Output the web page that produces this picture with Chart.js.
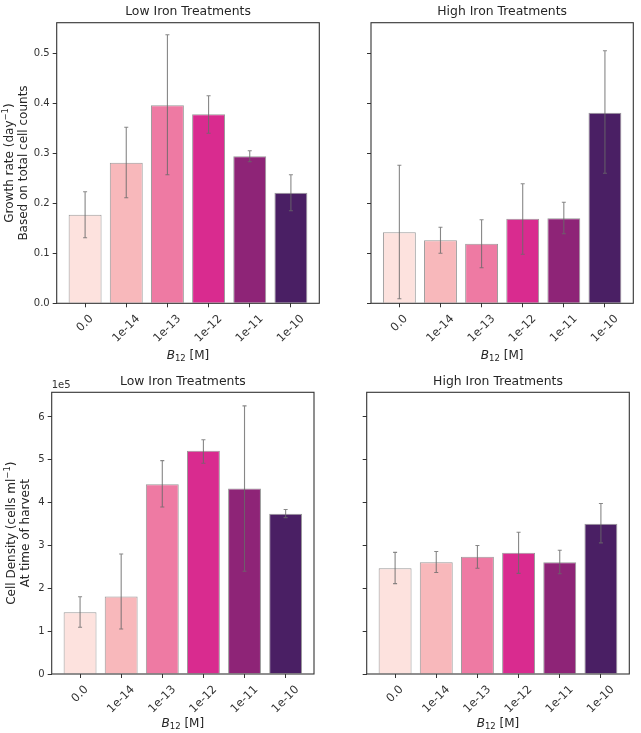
<!DOCTYPE html>
<html><head><meta charset="utf-8">
<script src="https://cdn.jsdelivr.net/npm/chart.js@4"></script>
<style>
html,body{margin:0;padding:0;background:#fff;}
#wrap{position:relative;width:641px;height:733px;overflow:hidden;}
canvas{position:absolute;left:0;top:0;}
</style></head><body>
<div id="wrap">
<canvas id="c1" width="641" height="733"></canvas>
<canvas id="c2" width="641" height="733"></canvas>
<canvas id="c3" width="641" height="733"></canvas>
<canvas id="c4" width="641" height="733"></canvas>
</div>
<script>
// ---- data ----
const categories = ['0.0', '1e-14', '1e-13', '1e-12', '1e-11', '1e-10'];
const barColors = ['#fde2de', '#f8b8bb', '#ee7aa3', '#d92b8f', '#8e2477', '#4a1f64'];

const growthLow      = [0.177, 0.281, 0.396, 0.378, 0.294, 0.221];
const growthLowLo    = [0.131, 0.211, 0.257, 0.340, 0.283, 0.185];
const growthLowHi    = [0.223, 0.352, 0.537, 0.415, 0.305, 0.257];

const growthHigh     = [0.142, 0.126, 0.119, 0.169, 0.170, 0.381];
const growthHighLo   = [0.009, 0.100, 0.071, 0.098, 0.139, 0.260];
const growthHighHi   = [0.276, 0.152, 0.167, 0.239, 0.202, 0.505];

const densityLow     = [1.44e5, 1.81e5, 4.43e5, 5.21e5, 4.33e5, 3.74e5];
const densityLowLo   = [1.09e5, 1.05e5, 3.90e5, 4.92e5, 2.40e5, 3.65e5];
const densityLowHi   = [1.805e5, 2.80e5, 4.98e5, 5.47e5, 6.26e5, 3.84e5];

const densityHigh    = [2.47e5, 2.61e5, 2.74e5, 2.83e5, 2.61e5, 3.51e5];
const densityHighLo  = [2.11e5, 2.37e5, 2.47e5, 2.35e5, 2.34e5, 3.06e5];
const densityHighHi  = [2.84e5, 2.86e5, 3.00e5, 3.31e5, 2.89e5, 3.98e5];

const growthTicks  = [0, 0.1, 0.2, 0.3, 0.4, 0.5];
const densityTicks = [0, 1e5, 2e5, 3e5, 4e5, 5e5, 6e5];

// ---- helpers ----
const FONT = '"DejaVu Sans", "Liberation Sans", sans-serif';
const TXT = '#262626';
const W = 641, H = 733;
const Y_W = 40, X_H = 20;
const XTICK_SIZE = 11.5;

function drawRich(ctx, segs, x, y, rot) {
  ctx.save();
  ctx.translate(x, y);
  ctx.rotate(rot);
  ctx.textBaseline = 'middle';
  ctx.textAlign = 'left';
  let total = 0;
  segs.forEach(s => { ctx.font = (s.italic ? 'italic ' : '') + s.size + 'px ' + FONT; s.w = ctx.measureText(s.t).width; total += s.w; });
  let cx = -total / 2;
  segs.forEach(s => {
    ctx.font = (s.italic ? 'italic ' : '') + s.size + 'px ' + FONT;
    ctx.fillStyle = TXT;
    ctx.fillText(s.t, cx, s.dy || 0);
    cx += s.w;
  });
  ctx.restore();
}

function makePanel(id, p) {
  const decor = {
    id: 'decor' + id,
    afterDatasetsDraw(chart) {
      const ctx = chart.ctx;
      const xs = chart.scales.x, ys = chart.scales.y;
      const a = chart.chartArea;
      // error bars
      ctx.save();
      ctx.strokeStyle = 'rgba(105,105,105,0.8)';
      ctx.lineWidth = 1.1;
      p.values.forEach((v, i) => {
        const x = xs.getPixelForValue(i);
        const y1 = ys.getPixelForValue(p.lo[i]);
        const y2 = ys.getPixelForValue(p.hi[i]);
        ctx.beginPath();
        ctx.moveTo(x, y1); ctx.lineTo(x, y2);
        ctx.moveTo(x - 2, y1); ctx.lineTo(x + 2, y1);
        ctx.moveTo(x - 2, y2); ctx.lineTo(x + 2, y2);
        ctx.stroke();
      });
      ctx.restore();
      // frame
      ctx.save();
      ctx.strokeStyle = '#333';
      ctx.lineWidth = 1.1;
      ctx.strokeRect(a.left, a.top, a.right - a.left, a.bottom - a.top);
      ctx.restore();
      // x tick labels rotated 45 deg, centered on ticks
      ctx.save();
      ctx.font = XTICK_SIZE + 'px ' + FONT;
      ctx.fillStyle = '#333';
      xs.ticks.forEach(t => {
        const label = categories[t.value];
        const x = xs.getPixelForValue(t.value);
        const w = ctx.measureText(label).width;
        const bb = (w + XTICK_SIZE * 1.16) * Math.SQRT1_2;
        const cy = a.bottom + 9 + bb / 2;
        ctx.save();
        ctx.translate(x, cy);
        ctx.rotate(-Math.PI / 4);
        ctx.textAlign = 'center';
        ctx.textBaseline = 'middle';
        ctx.fillText(label, 0, 0);
        ctx.restore();
      });
      ctx.restore();
      const cx = (a.left + a.right) / 2;
      // title
      drawRich(ctx, [{t: p.title, size: 12.4}], cx, p.titleY, 0);
      // x axis title
      drawRich(ctx, [{t: 'B', size: 12, italic: true}, {t: '12', size: 8.5, dy: 3}, {t: ' [M]', size: 12}], cx, p.xTitleY, 0);
      // y axis title
      if (p.yLines) {
        const cyy = (a.top + a.bottom) / 2;
        p.yLines.forEach(l => drawRich(ctx, l.segs, l.x, cyy, -Math.PI / 2));
      }
      if (p.offsetText) {
        ctx.save();
        ctx.font = '10px ' + FONT;
        ctx.fillStyle = '#333';
        ctx.textAlign = 'left';
        ctx.textBaseline = 'alphabetic';
        ctx.fillText(p.offsetText, a.left, a.top - 4);
        ctx.restore();
      }
    }
  };
  return new Chart(document.getElementById(id), {
    type: 'bar',
    data: {
      datasets: [{
        data: p.values.map((v, i) => ({x: i, y: v})),
        backgroundColor: barColors,
        borderColor: 'rgba(110,110,110,0.7)',
        borderWidth: 1,
        barPercentage: 0.8,
        categoryPercentage: 1.0
      }]
    },
    options: {
      responsive: false,
      animation: false,
      devicePixelRatio: 1,
      layout: { padding: { left: p.L - Y_W, right: W - p.R, top: p.T, bottom: H - p.B - X_H } },
      plugins: { legend: { display: false }, tooltip: { enabled: false }, title: { display: false } },
      scales: {
        x: {
          type: 'linear',
          min: -0.69, max: 5.69,
          offset: false,
          afterBuildTicks: ax => { ax.ticks = categories.map((c, i) => ({value: i})); },
          afterFit: ax => { ax.height = X_H; },
          ticks: { display: false },
          grid: { display: true, offset: false, drawOnChartArea: false, drawTicks: true, tickLength: 4, color: '#333', lineWidth: 1 },
          border: { display: false }
        },
        y: {
          type: 'linear',
          min: 0, max: p.yMax,
          afterBuildTicks: ax => { ax.ticks = p.yTicks.map(v => ({value: v})); },
          afterFit: ax => { ax.width = Y_W; },
          ticks: {
            display: p.showYLabels,
            padding: 3,
            color: '#333',
            font: { family: FONT, size: 10 },
            callback: p.fmt
          },
          grid: { display: true, offset: false, drawOnChartArea: false, drawTicks: true, tickLength: 4, color: '#333', lineWidth: 1 },
          border: { display: false }
        }
      }
    },
    plugins: [decor]
  });
}

const sup = (main, s, tail) => [{t: main, size: 12}, {t: s, size: 8.5, dy: -4.5}, {t: tail, size: 12}];

makePanel('c1', {
  L: 56.7, T: 22.7, R: 319.3, B: 303.3, yMax: 0.561, yTicks: growthTicks,
  values: growthLow, lo: growthLowLo, hi: growthLowHi,
  title: 'Low Iron Treatments', titleY: 12, xTitleY: 356,
  showYLabels: true, fmt: v => v.toFixed(1),
  yLines: [{x: 10, segs: sup('Growth rate (day', '\u22121', ')')}, {x: 24, segs: [{t: 'Based on total cell counts', size: 12}]}]
});
makePanel('c2', {
  L: 371, T: 22.7, R: 633.3, B: 303.3, yMax: 0.561, yTicks: growthTicks,
  values: growthHigh, lo: growthHighLo, hi: growthHighHi,
  title: 'High Iron Treatments', titleY: 12, xTitleY: 356,
  showYLabels: false, fmt: v => v.toFixed(1)
});
makePanel('c3', {
  L: 51.7, T: 392.3, R: 314, B: 674, yMax: 6.576e5, yTicks: densityTicks,
  values: densityLow, lo: densityLowLo, hi: densityLowHi,
  title: 'Low Iron Treatments', titleY: 382, xTitleY: 724,
  showYLabels: true, fmt: v => (v / 1e5).toFixed(0), offsetText: '1e5',
  yLines: [{x: 12, segs: sup('Cell Density (cells ml', '\u22121', ')')}, {x: 26, segs: [{t: 'At time of harvest', size: 12}]}]
});
makePanel('c4', {
  L: 366.7, T: 392.3, R: 629.3, B: 674, yMax: 6.576e5, yTicks: densityTicks,
  values: densityHigh, lo: densityHighLo, hi: densityHighHi,
  title: 'High Iron Treatments', titleY: 382, xTitleY: 724,
  showYLabels: false, fmt: v => (v / 1e5).toFixed(0)
});
</script>
</body></html>
